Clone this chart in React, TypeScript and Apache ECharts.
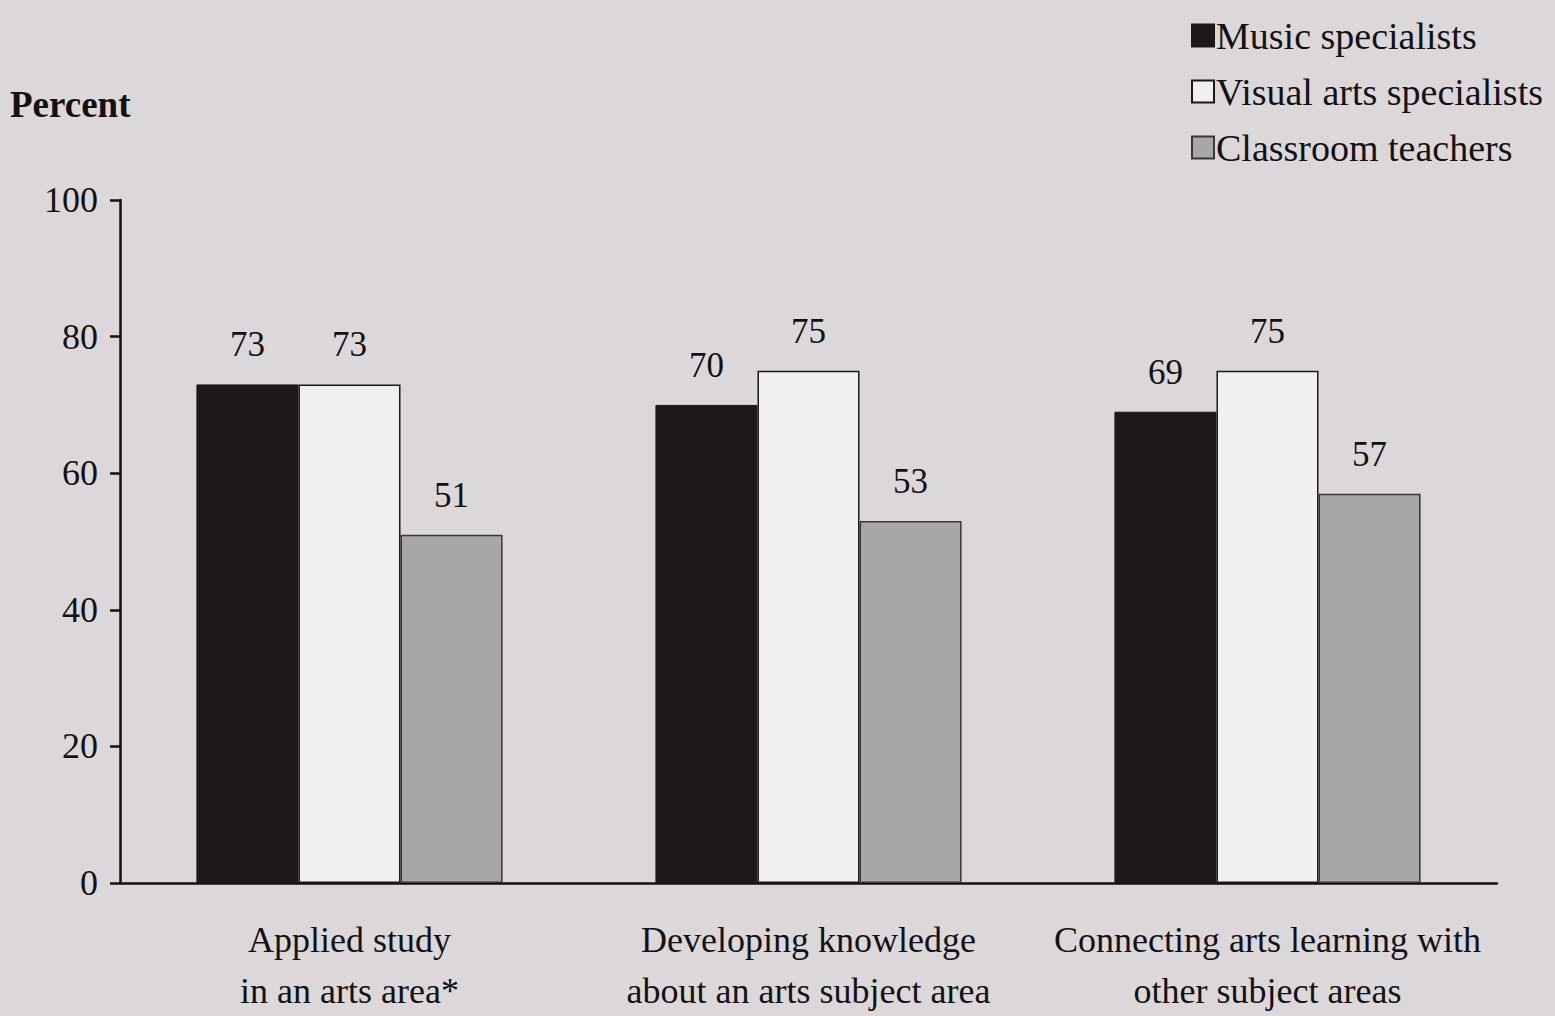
import React, { useEffect, useRef } from "react";
import * as echarts from "echarts";

const categories = [
  "Applied study\nin an arts area*",
  "Developing knowledge\nabout an arts subject area",
  "Connecting arts learning with\nother subject areas",
];
const musicSpecialists = [73, 70, 69];
const visualArtsSpecialists = [73, 75, 75];
const classroomTeachers = [51, 53, 57];
const seriesNames = ["Music specialists", "Visual arts specialists", "Classroom teachers"];
const yTicks = { min: 0, max: 100, interval: 20 };

const FONT = "'Liberation Serif', 'Times New Roman', serif";
const TXT = "#141112";

export default function App() {
  const ref = useRef<HTMLDivElement>(null);
  useEffect(() => {
    if (!ref.current) return;
    const chart = echarts.init(ref.current, undefined, { renderer: "svg" });
    const label = {
      show: true,
      position: "top",
      distance: 22,
      fontFamily: FONT,
      fontSize: 35,
      color: TXT,
    };
    chart.setOption({
      animation: false,
      backgroundColor: "#dcd8da",
      textStyle: { fontFamily: FONT, color: TXT },
      legend: {
        orient: "vertical",
        left: 1186,
        top: 10,
        itemWidth: 22,
        itemHeight: 22,
        itemGap: 15,
        icon: "rect",
        textStyle: { fontFamily: FONT, fontSize: 38, color: TXT, lineHeight: 41, padding: [0, 0, 0, -3] },
        data: seriesNames,
      },
      graphic: [
        {
          type: "text",
          left: 10,
          top: 86,
          style: { text: "Percent", font: `bold 37px ${FONT}`, fill: TXT },
        },
      ],
      grid: { left: 120, right: 58, top: 200, height: 690, containLabel: false },
      xAxis: {
        type: "category",
        data: categories,
        axisLine: { lineStyle: { color: TXT, width: 2.5 } },
        axisTick: { show: false },
        axisLabel: { fontFamily: FONT, fontSize: 36, color: TXT, lineHeight: 51, margin: 31, interval: 0 },
      },
      yAxis: {
        type: "value",
        min: yTicks.min,
        max: yTicks.max,
        interval: yTicks.interval,
        splitLine: { show: false },
        axisLine: { show: true, lineStyle: { color: TXT, width: 2.5 } },
        axisTick: { show: true, inside: false, length: 10, lineStyle: { color: TXT, width: 2.5 } },
        axisLabel: { fontFamily: FONT, fontSize: 36, color: TXT, margin: 22 },
      },
      series: [
        {
          name: seriesNames[0],
          type: "bar",
          data: musicSpecialists,
          barGap: "0%",
          barCategoryGap: "33.3%",
          itemStyle: { color: "#1d1819", borderColor: "#1d1819", borderWidth: 1 },
          label,
        },
        {
          name: seriesNames[1],
          type: "bar",
          data: visualArtsSpecialists,
          itemStyle: { color: "#f1eff0", borderColor: "#1d1819", borderWidth: 1.5 },
          label,
        },
        {
          name: seriesNames[2],
          type: "bar",
          data: classroomTeachers,
          itemStyle: { color: "#a9a6a7", borderColor: "#3a3536", borderWidth: 1.5 },
          label,
        },
      ],
    });
    return () => chart.dispose();
  }, []);
  return (
    <div
      ref={ref}
      style={{ position: "fixed", left: 0, top: 0, width: 1555, height: 1016 }}
    />
  );
}
